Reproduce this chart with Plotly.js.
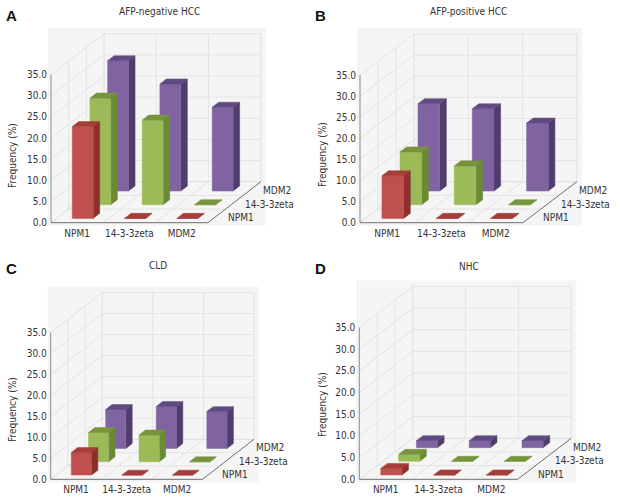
<!DOCTYPE html>
<html><head><meta charset="utf-8">
<script src="https://cdn.plot.ly/plotly-3.0.1.min.js"></script>
<style>html,body{margin:0;padding:0;background:#fff}#chart{width:620px;height:499px}</style>
</head><body><div id="chart"></div>
<script>
// ---------------- data ----------------
const categories = ['NPM1', '14-3-3zeta', 'MDM2'];
const depthSeries = ['NPM1', '14-3-3zeta', 'MDM2'];
const panelTitles = ['AFP-negative HCC', 'AFP-positive HCC', 'CLD', 'NHC'];
const panelLetters = ['A', 'B', 'C', 'D'];
const yTickVals = [0, 5, 10, 15, 20, 25, 30, 35];
const yTickText = ['0.0', '5.0', '10.0', '15.0', '20.0', '25.0', '30.0', '35.0'];

const afpNegNPM1 = [21.7, 0, 0];
const afpNegZeta = [25.2, 20.0, 0];
const afpNegMDM2 = [30.8, 25.3, 19.8];

const afpPosNPM1 = [10.1, 0, 0];
const afpPosZeta = [12.5, 9.2, 0];
const afpPosMDM2 = [20.7, 19.5, 16.1];

const cldNPM1 = [5.4, 0, 0];
const cldZeta = [7.0, 6.4, 0];
const cldMDM2 = [9.3, 10.0, 8.8];

const nhcNPM1 = [1.5, 0, 0];
const nhcZeta = [1.6, 0, 0];
const nhcMDM2 = [1.6, 1.6, 1.6];

const panelSeries = [
  [afpNegNPM1, afpNegZeta, afpNegMDM2],
  [afpPosNPM1, afpPosZeta, afpPosMDM2],
  [cldNPM1, cldZeta, cldMDM2],
  [nhcNPM1, nhcZeta, nhcMDM2]
];

// ---------------- styling / geometry ----------------
const W = 620, H = 499;
const FONT = 'DejaVu Sans Condensed, DejaVu Sans, sans-serif';
const TXT = '#333333';
const faceColors = [
  {front: '#c0504d', side: '#8b302d', top: '#a43e3b'},
  {front: '#9bbb59', side: '#6b8a34', top: '#77933d'},
  {front: '#8064a2', side: '#4f3e6b', top: '#604b81'}
];
const geoms = [
  {ox: 51,    oy: 222.7, col: 52.3, unit: 4.23, ddx: 53,   ddy: -41, title: [159, 11],  letter: [11, 15],  ytitle: [12, 156]},
  {ox: 360,   oy: 222.7, col: 54.3, unit: 4.22, ddx: 54,   ddy: -41, title: [468, 11],  letter: [320, 15], ytitle: [322, 155]},
  {ox: 50.7,  oy: 479.3, col: 50.6, unit: 4.19, ddx: 51.5, ddy: -40, title: [158, 265], letter: [11, 268], ytitle: [12, 410]},
  {ox: 359.3, oy: 479.3, col: 52.8, unit: 4.34, ddx: 53.5, ddy: -41, title: [469, 266], letter: [320, 268], ytitle: [322, 405]}
];
const pad = {l: 3, r: 5, t: 6, b: 3};
const VMAX = 35;
const barW = 0.4, barD0 = 0.315, barD1 = 0.685;

const traces = [];
const layout = {
  width: W, height: H,
  margin: {l: 0, r: 0, t: 0, b: 0},
  paper_bgcolor: '#ffffff',
  plot_bgcolor: '#f5f5f5',
  showlegend: false,
  hovermode: false,
  annotations: []
};

geoms.forEach((g, k) => {
  const sfx = k === 0 ? '' : String(k + 1);
  const xref = 'x' + sfx, yref = 'y' + sfx;
  const leftPx = g.ox - pad.l;
  const rightPx = g.ox + 3 * g.col + g.ddx + pad.r;
  const topPx = g.oy + g.ddy - VMAX * g.unit - pad.t;
  const bottomPx = g.oy + pad.b;
  const KX = (g.ddx / 3) / g.col;
  const KY = (-g.ddy / 3) / g.unit;
  const P = (c, d, v) => [c + KX * d, v + KY * d];

  layout['xaxis' + sfx] = {
    domain: [leftPx / W, rightPx / W],
    range: [-pad.l / g.col, (rightPx - g.ox) / g.col],
    tickmode: 'array', tickvals: [0.5, 1.5, 2.5], ticktext: categories,
    ticks: '', showgrid: false, zeroline: false, showline: false, fixedrange: true,
    tickfont: {family: FONT, size: 10, color: TXT}, anchor: yref
  };
  layout['yaxis' + sfx] = {
    domain: [1 - bottomPx / H, 1 - topPx / H],
    range: [-pad.b / g.unit, (g.oy - topPx) / g.unit],
    tickmode: 'array', tickvals: yTickVals, ticktext: yTickText,
    ticks: '', showgrid: false, zeroline: false, showline: false, fixedrange: true,
    tickfont: {family: FONT, size: 10, color: TXT}, anchor: xref
  };

  function lineTrace(segs, color, width) {
    const xs = [], ys = [];
    segs.forEach(s => {
      s.forEach(pt => { xs.push(pt[0]); ys.push(pt[1]); });
      xs.push(null); ys.push(null);
    });
    traces.push({type: 'scatter', mode: 'lines', x: xs, y: ys, xaxis: xref, yaxis: yref,
      line: {color: color, width: width}, hoverinfo: 'skip'});
  }
  function polyTrace(polys, color) {
    const xs = [], ys = [];
    polys.forEach(poly => {
      poly.forEach(pt => { xs.push(pt[0]); ys.push(pt[1]); });
      xs.push(poly[0][0]); ys.push(poly[0][1]);
      xs.push(null); ys.push(null);
    });
    traces.push({type: 'scatter', mode: 'lines', x: xs, y: ys, xaxis: xref, yaxis: yref,
      fill: 'toself', fillcolor: color, line: {color: color, width: 0.5}, hoverinfo: 'skip'});
  }

  // gridlines
  const grid = [];
  yTickVals.forEach(v => {
    if (v === 0) return;
    grid.push([P(0, 0, v), P(0, 3, v)]);
    grid.push([P(0, 3, v), P(3, 3, v)]);
  });
  [1, 2].forEach(c => {
    grid.push([P(c, 3, 0), P(c, 3, VMAX)]);
    grid.push([P(c, 0, 0), P(c, 3, 0)]);
  });
  [1, 2].forEach(d => {
    grid.push([P(0, d, 0), P(0, d, VMAX)]);
    grid.push([P(0, d, 0), P(3, d, 0)]);
  });
  lineTrace(grid, '#e4e4e4', 1);
  // wall edges
  lineTrace([
    [P(0, 3, 0), P(0, 3, VMAX)],
    [P(3, 3, 0), P(3, 3, VMAX)],
    [P(0, 3, 0), P(3, 3, 0)],
    [P(0, 0, 0), P(0, 3, 0)]
  ], '#dedede', 1);
  // axes
  lineTrace([[P(0, 0, 0), P(0, 0, VMAX)]], '#8c8c8c', 1);
  lineTrace([[P(0, 0, 0), P(3, 0, 0)], [P(3, 0, 0), P(3, 3, 0)]], '#6f6f6f', 1);

  // bars, back row first
  const series = panelSeries[k];
  for (let i = 2; i >= 0; i--) {
    const fronts = [], sides = [], tops = [];
    series[i].forEach((v, j) => {
      const c0 = j + 0.5 - barW / 2, c1 = j + 0.5 + barW / 2;
      const d0 = i + barD0, d1 = i + barD1;
      fronts.push([P(c0, d0, 0), P(c1, d0, 0), P(c1, d0, v), P(c0, d0, v)]);
      sides.push([P(c1, d0, 0), P(c1, d1, 0), P(c1, d1, v), P(c1, d0, v)]);
      tops.push([P(c0, d0, v), P(c1, d0, v), P(c1, d1, v), P(c0, d1, v)]);
    });
    polyTrace(sides, faceColors[i].side);
    polyTrace(fronts, faceColors[i].front);
    polyTrace(tops, faceColors[i].top);
  }

  // depth labels
  depthSeries.forEach((name, i) => {
    const pt = P(3, i + 0.5, 0);
    layout.annotations.push({xref: xref, yref: yref, x: pt[0], y: pt[1], text: name,
      showarrow: false, xanchor: 'left', yanchor: 'middle', xshift: 9, yshift: -2,
      font: {family: FONT, size: 10, color: TXT}});
  });
  // titles
  layout.annotations.push({xref: 'paper', yref: 'paper', x: g.title[0] / W, y: 1 - g.title[1] / H,
    text: panelTitles[k], showarrow: false, xanchor: 'center', yanchor: 'middle',
    font: {family: FONT, size: 10, color: TXT}});
  layout.annotations.push({xref: 'paper', yref: 'paper', x: g.letter[0] / W, y: 1 - g.letter[1] / H,
    text: '<b>' + panelLetters[k] + '</b>', showarrow: false, xanchor: 'center', yanchor: 'middle',
    font: {family: 'Liberation Sans, Arial, sans-serif', size: 15, color: '#111111'}});
  layout.annotations.push({xref: 'paper', yref: 'paper', x: g.ytitle[0] / W, y: 1 - g.ytitle[1] / H,
    text: 'Frequency (%)', textangle: -90, showarrow: false, xanchor: 'center', yanchor: 'middle',
    font: {family: FONT, size: 10, color: TXT}});
});

Plotly.newPlot('chart', traces, layout, {displayModeBar: false, staticPlot: true});
</script>
</body></html>
